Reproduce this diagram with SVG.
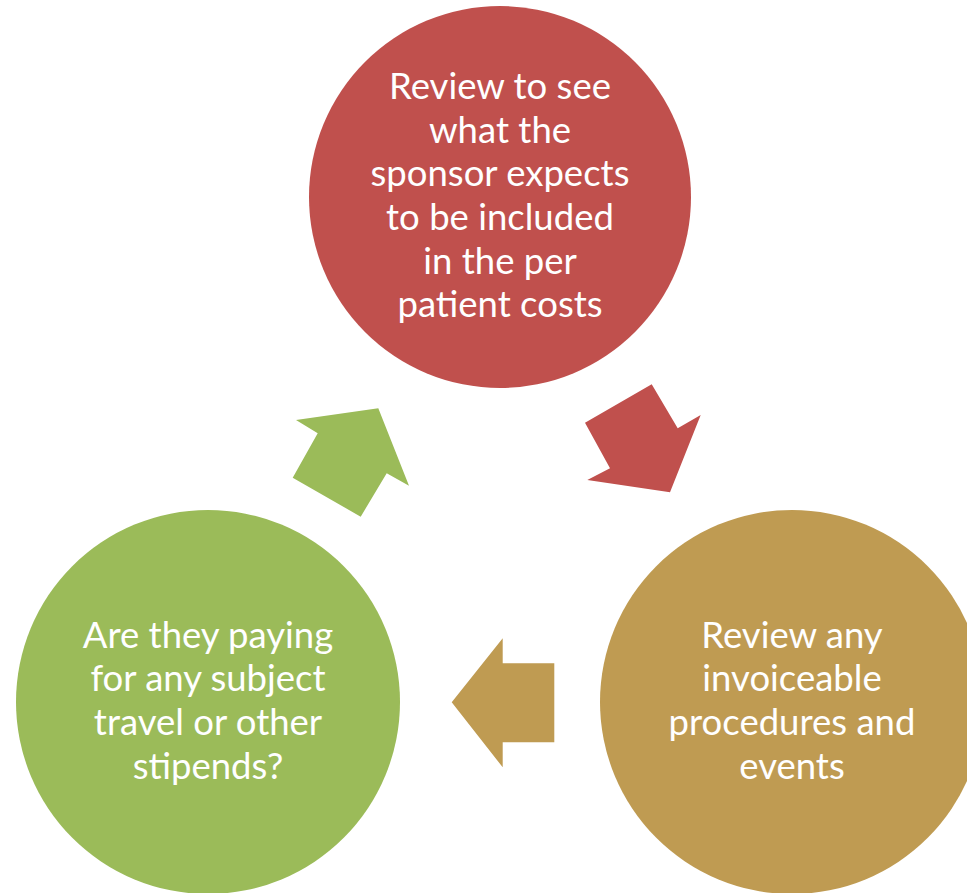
<svg xmlns="http://www.w3.org/2000/svg" width="967" height="893" viewBox="0 0 967 893">
<style>
.lbl{font-family:Lato,"Open Sans","Liberation Sans",sans-serif;font-size:36.5px;fill:#fff;text-anchor:middle}
.red{fill:#C0504D}.gold{fill:#BF9B52}.green{fill:#9BBB59}
</style>
<rect width="967" height="893" fill="#fff"/>
<g id="connectors">
<polygon class="red" points="651.7,384.3 677.7,428.3 700.7,415 670,492.3 587.3,480 610,468.3 585,422.7"/>
<polygon class="gold" points="451.7,702.3 502.7,638.3 502.7,663.3 554.3,663.3 554.3,742.3 502.7,742.3 502.7,767.3"/>
<polygon class="green" points="296,420 378.3,408.3 409,485.7 386.7,473.3 360.7,516.7 292.7,477.7 317.7,433.3"/>
</g>
<g id="node-top">
<circle class="red" cx="500" cy="197" r="191"/>
<text class="lbl"><tspan x="500" y="99">Review to see</tspan><tspan x="500" y="143">what the</tspan><tspan x="500" y="186">sponsor expects</tspan><tspan x="500" y="230">to be included</tspan><tspan x="500" y="274">in the per</tspan><tspan x="500" y="317">patient costs</tspan></text>
</g>
<g id="node-right">
<circle class="gold" cx="792" cy="702" r="192"/>
<text class="lbl"><tspan x="792" y="648">Review any</tspan><tspan x="792" y="691">invoiceable</tspan><tspan x="792" y="735">procedures and</tspan><tspan x="792" y="779">events</tspan></text>
</g>
<g id="node-left">
<circle class="green" cx="208" cy="702" r="192"/>
<text class="lbl"><tspan x="208" y="648">Are they paying</tspan><tspan x="208" y="691">for any subject</tspan><tspan x="208" y="735">travel or other</tspan><tspan x="208" y="779">stipends?</tspan></text>
</g>
</svg>
